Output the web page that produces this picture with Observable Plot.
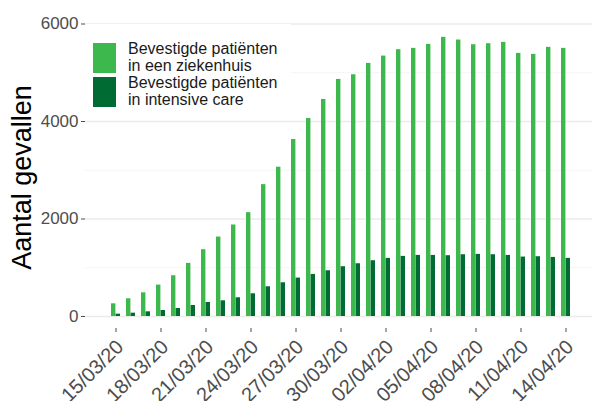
<!DOCTYPE html>
<html>
<head>
<meta charset="utf-8">
<script src="https://cdn.jsdelivr.net/npm/d3@7"></script>
<script src="https://cdn.jsdelivr.net/npm/@observablehq/plot@0.6"></script>
<style>
  html, body { margin: 0; padding: 0; background: #fff; }
  #wrap { position: relative; width: 592px; height: 401px; overflow: hidden; font-family: "Liberation Sans", Arial, sans-serif; }
  #legend { position: absolute; left: 86px; top: 24px; width: 205px; height: 86px; background: #fff; }
  .item { position: absolute; left: 7px; display: flex; align-items: center; }
  .key { width: 23px; height: 30px; }
  .lab { margin-left: 12px; font-size: 16px; line-height: 16.7px; color: #1a1a1a; }
</style>
</head>
<body>
<div id="wrap"></div>
<script>
const dates = ["15/03/20","16/03/20","17/03/20","18/03/20","19/03/20","20/03/20","21/03/20","22/03/20","23/03/20","24/03/20",
  "25/03/20","26/03/20","27/03/20","28/03/20","29/03/20","30/03/20","31/03/20","01/04/20","02/04/20","03/04/20",
  "04/04/20","05/04/20","06/04/20","07/04/20","08/04/20","09/04/20","10/04/20","11/04/20","12/04/20","13/04/20","14/04/20"];
const hospital = [260, 363, 486, 644, 836, 1089, 1370, 1630, 1877, 2130, 2705, 3062, 3630, 4062, 4452, 4863, 4959, 5192, 5342, 5473, 5500, 5582, 5726, 5671, 5575, 5596, 5623, 5397, 5377, 5521, 5500];
const icu = [48, 68, 96, 123, 164, 226, 288, 322, 384, 466, 610, 692, 788, 863, 938, 1021, 1082, 1144, 1192, 1233, 1253, 1253, 1247, 1267, 1274, 1267, 1253, 1219, 1226, 1212, 1192];
const seriesNames = ["Bevestigde patiënten\nin een ziekenhuis", "Bevestigde patiënten\nin intensive care"];
const seriesColors = ["#3db84c", "#006b33"];
const xTicks = ["15/03/20","18/03/20","21/03/20","24/03/20","27/03/20","30/03/20","02/04/20","05/04/20","08/04/20","11/04/20","14/04/20"];
const yTicks = [0, 2000, 4000, 6000];
const gridMajor = [0, 2000, 4000, 6000];
const gridMinor = [1000, 3000, 5000];
const yTitle = "Aantal gevallen";

const hosp = dates.map((d, i) => ({date: d, value: hospital[i]}));
const ic = dates.map((d, i) => ({date: d, value: icu[i]}));

const chart = Plot.plot({
  width: 592,
  height: 401,
  marginLeft: 85,
  marginRight: 0,
  marginTop: 26,
  marginBottom: 73,
  style: {fontFamily: "'Liberation Sans', Arial, sans-serif", background: "#fff"},
  x: {type: "band", domain: dates, range: [104.7, 575.9], padding: 0},
  y: {domain: [0, 6000], range: [316, 23.5]},
  marks: [
    Plot.ruleY(gridMinor, {stroke: "#f3f3f3", strokeWidth: 0.8}),
    Plot.ruleY(gridMajor, {stroke: "#ebebeb", strokeWidth: 1.3}),
    Plot.barY(hosp, {x: "date", y: "value", fill: seriesColors[0], insetLeft: 3.0, insetRight: 7.6}),
    Plot.barY(ic, {x: "date", y: "value", fill: seriesColors[1], insetLeft: 7.6, insetRight: 3.0}),
    Plot.axisY({ticks: yTicks, tickSize: 4, tickPadding: 3, fontSize: 17, color: "#4d4d4d", label: null, tickFormat: d => String(d)}),
    Plot.axisX({ticks: xTicks, tickSize: 4, fill: "none", stroke: "#4d4d4d", label: null}),
    Plot.axisX({ticks: xTicks, tickSize: 0, tickPadding: 8, tickRotate: -45, fontSize: 20, color: "#4d4d4d", label: null, dx: 4, dy: 7}),
    Plot.text([yTitle], {text: d => d, frameAnchor: "left", textAnchor: "middle", rotate: -90, dx: -63, fontSize: 27, fill: "#000"})
  ]
});

const wrap = document.getElementById("wrap");
wrap.appendChild(chart);

const legend = document.createElement("div");
legend.id = "legend";
seriesNames.forEach((name, i) => {
  const item = document.createElement("div");
  item.className = "item";
  item.style.top = (17 + i * 34) + "px";
  const key = document.createElement("div");
  key.className = "key";
  key.style.background = seriesColors[i];
  const lab = document.createElement("div");
  lab.className = "lab";
  lab.innerHTML = name.replace("\n", "<br>");
  item.appendChild(key);
  item.appendChild(lab);
  legend.appendChild(item);
});
wrap.appendChild(legend);
</script>
</body>
</html>
